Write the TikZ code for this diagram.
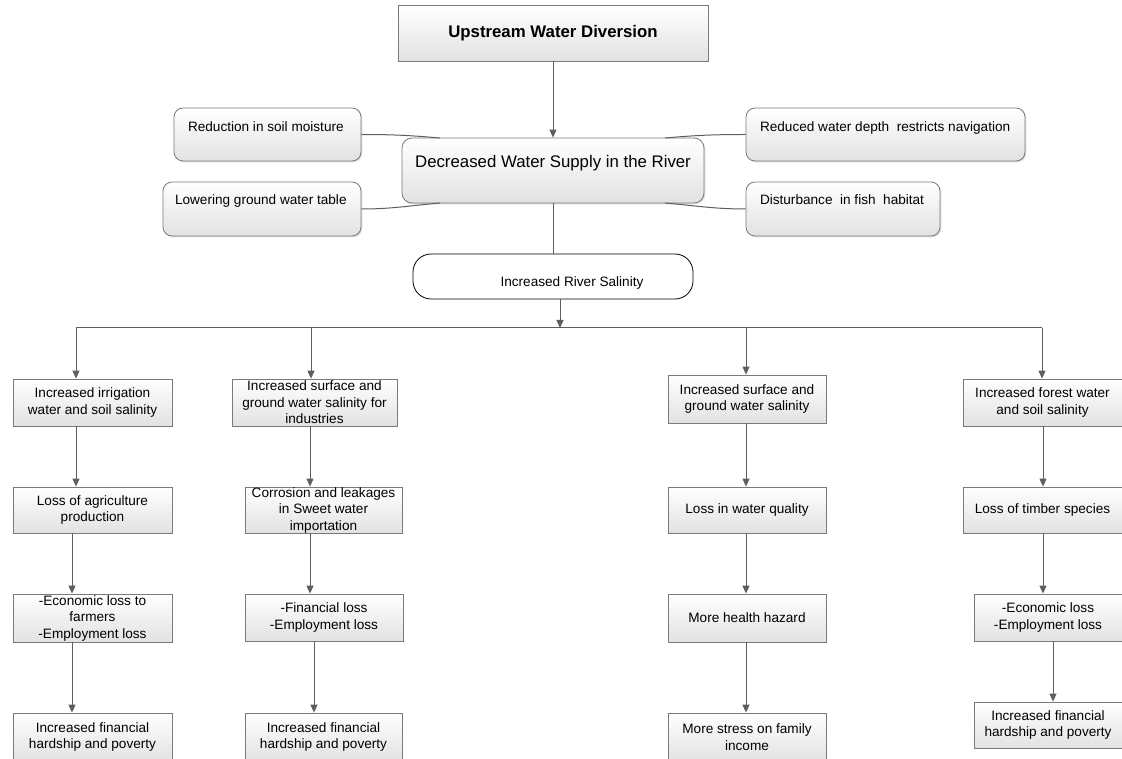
\documentclass[tikz,border=0pt]{standalone}
\usepackage{fontspec}
\setmainfont{Liberation Sans}
\usetikzlibrary{arrows.meta,shadows}
\definecolor{lc}{HTML}{5E5E5E}
\definecolor{bd}{HTML}{7A7A7A}
\definecolor{gbot}{HTML}{E2E2E2}
\newcommand{\boxtext}[3]{\parbox[c][#2][c]{#1}{\centering #3}}
\begin{document}
\begin{tikzpicture}[x=1pt,y=-1pt,
  fbox/.style={draw=bd, line width=0.8pt, top color=white, bottom color=gbot,
    inner sep=0pt, font=\fontsize{13.6}{16.5}\selectfont,
    drop shadow={shadow xshift=1.3pt,shadow yshift=-1.3pt,opacity=0.25}},
  rbox/.style={fbox, rounded corners=9pt},
  conn/.style={draw=lc, line width=1pt},
  arr/.style={conn, -{Triangle[width=7pt,length=8pt]}}]
\useasboundingbox (0,0) rectangle (1122,759);
\fill[white] (0,0) rectangle (1122,759);
\clip (0,0) rectangle (1122,759);

% top part
\node[fbox, font=\bfseries\fontsize{16.8}{19}\selectfont] (up) at (553,33)
  {\boxtext{310pt}{56pt}{Upstream Water Diversion}};
\node[rbox, rounded corners=10pt, font=\fontsize{16.8}{19}\selectfont,
  text height=30pt, text depth=35pt, minimum width=302pt] (dec) at (553,170.5)
  {Decreased Water Supply in the River};

\node[rbox, text height=24pt, text depth=29pt, inner xsep=14pt] (red) at (267.5,134.5)
  {\makebox[159pt][l]{Reduction in soil moisture}};
\node[rbox, text height=23pt, text depth=31pt, inner xsep=12pt] (low) at (262,209)
  {\makebox[174pt][l]{Lowering ground water table}};
\node[rbox, text height=24pt, text depth=29pt, inner xsep=14pt] (rwd) at (885.5,134.5)
  {\makebox[251pt][l]{Reduced water depth~ restricts navigation}};
\node[rbox, text height=23pt, text depth=31pt, inner xsep=14pt] (dis) at (843,209)
  {\makebox[166pt][l]{Disturbance~ in fish~ habitat}};

\node[draw=black, line width=0.8pt, fill=white, rounded corners=18pt,
  minimum width=280pt, inner sep=0pt, text height=33pt, text depth=12pt,
  font=\fontsize{13.6}{16.5}\selectfont] (sal) at (553,276.5)
  {\hspace*{38pt}Increased River Salinity};

\coordinate (dtl) at (440,138);
\coordinate (dbl) at (440,203);
\coordinate (dtr) at (665,138);
\coordinate (dbr) at (665,203);

\draw[conn] (red.east) to[out=0,in=175] (dtl);
\draw[conn] (low.east) to[out=0,in=185] (dbl);
\draw[conn] (rwd.west) to[out=180,in=5] (dtr);
\draw[conn] (dis.west) to[out=180,in=-5] (dbr);

\draw[arr] (up) -- (dec);
\draw[conn] (dec) -- (sal);

% bus
\coordinate (bus) at (560,328);
\coordinate (bL) at (76,328);
\coordinate (b2) at (311,328);
\coordinate (b3) at (746,328);
\coordinate (bR) at (1042,328);
\draw[arr] (sal.south -| bus) -- (bus);
\draw[conn] (bL) -- (bR);

% column 1
\node[fbox] (c11) at (92.5,402.5) {\boxtext{159pt}{47pt}{Increased irrigation\\water and soil salinity}};
\node[fbox] (c12) at (92.5,510) {\boxtext{159pt}{46pt}{Loss of agriculture\\production}};
\node[fbox] (c13) at (92.5,618) {\boxtext{159pt}{48pt}{-Economic loss to\\farmers\\-Employment loss}};
\node[fbox] (c14) at (92.5,737) {\boxtext{159pt}{48pt}{Increased financial\\hardship and poverty}};

% column 2
\node[fbox] (c21) at (314.5,402.5) {\boxtext{165pt}{47pt}{Increased surface and\\ground water salinity for\\industries}};
\node[fbox] (c22) at (323.5,510) {\boxtext{157pt}{46pt}{Corrosion and leakages\\in Sweet water\\importation}};
\node[fbox] (c23) at (324,617.5) {\boxtext{158pt}{47pt}{-Financial loss\\-Employment loss}};
\node[fbox] (c24) at (323.5,737) {\boxtext{157pt}{48pt}{Increased financial\\hardship and poverty}};

% column 3
\node[fbox] (c31) at (747,399) {\boxtext{158pt}{48pt}{Increased surface and\\ground water salinity}};
\node[fbox] (c32) at (747,510) {\boxtext{158pt}{46pt}{Loss in water quality}};
\node[fbox] (c33) at (747,618) {\boxtext{158pt}{48pt}{More health hazard}};
\node[fbox] (c34) at (747,737) {\boxtext{158pt}{48pt}{More stress on family\\income}};

% column 4
\node[fbox] (c41) at (1042.5,402.5) {\boxtext{159pt}{47pt}{Increased forest water\\and soil salinity}};
\node[fbox] (c42) at (1042.5,510) {\boxtext{159pt}{46pt}{Loss of timber species}};
\node[fbox] (c43) at (1048,617.5) {\boxtext{148pt}{47pt}{-Economic loss\\-Employment loss}};
\node[fbox] (c44) at (1048,725) {\boxtext{148pt}{46pt}{Increased financial\\hardship and poverty}};

% x positions of vertical arrows
\coordinate (k1) at (72,0);
\coordinate (k2) at (310,0);
\coordinate (k3) at (314,0);
\coordinate (k4) at (1043,0);
\coordinate (k5) at (1053,0);

\draw[arr] (bL) -- (c11.north -| bL);
\draw[arr] (b2) -- (c21.north -| b2);
\draw[arr] (b3) -- (c31.north -| b3);
\draw[arr] (bR) -- (c41.north -| bR);

\draw[arr] (c11.south -| bL) -- (c12.north -| bL);
\draw[arr] (c12.south -| k1) -- (c13.north -| k1);
\draw[arr] (c13.south -| k1) -- (c14.north -| k1);

\draw[arr] (c21.south -| k2) -- (c22.north -| k2);
\draw[arr] (c22.south -| k2) -- (c23.north -| k2);
\draw[arr] (c23.south -| k3) -- (c24.north -| k3);

\draw[arr] (c31.south -| b3) -- (c32.north -| b3);
\draw[arr] (c32.south -| b3) -- (c33.north -| b3);
\draw[arr] (c33.south -| b3) -- (c34.north -| b3);

\draw[arr] (c41.south -| k4) -- (c42.north -| k4);
\draw[arr] (c42.south -| k4) -- (c43.north -| k4);
\draw[arr] (c43.south -| k5) -- (c44.north -| k5);
\end{tikzpicture}
\end{document}
